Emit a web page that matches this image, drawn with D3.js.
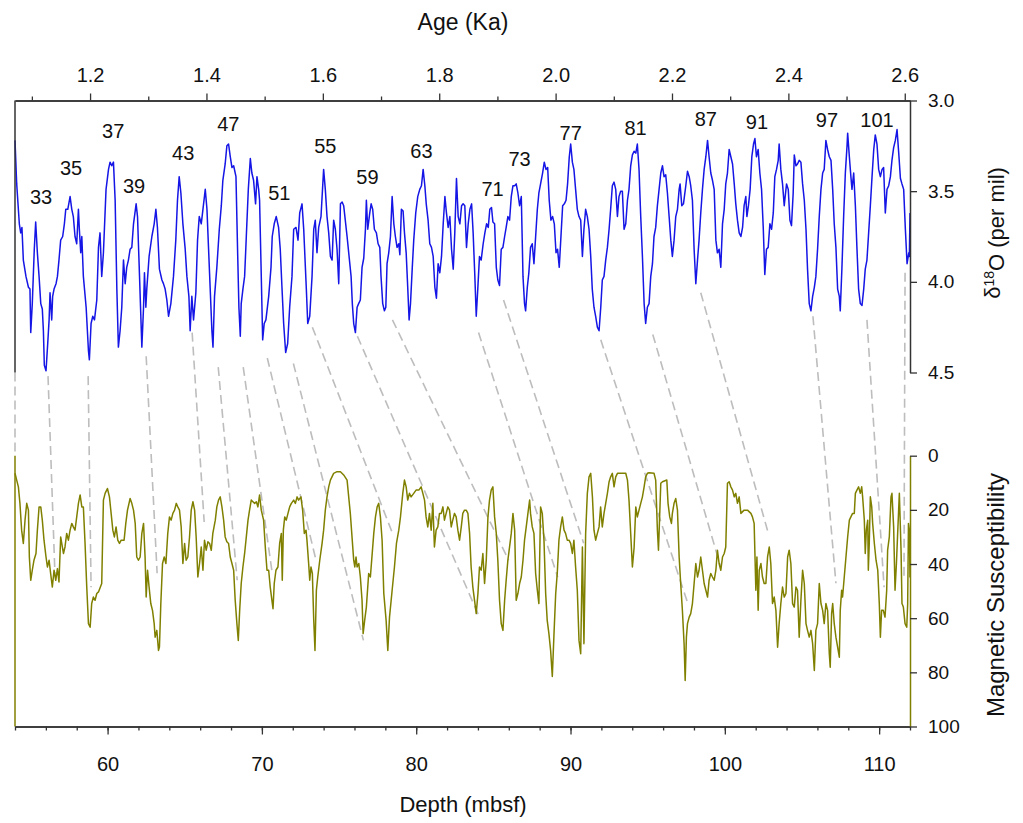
<!DOCTYPE html>
<html>
<head>
<meta charset="utf-8">
<script src="https://cdn.jsdelivr.net/npm/d3@7"></script>
<style>
  body { margin: 0; background: #fff; }
  svg { display: block; font-family: "Liberation Sans", Arial, sans-serif; }
</style>
</head>
<body>
<div id="chart"></div>
<script>
// ---- data ----
const ageTicks = [1.2, 1.4, 1.6, 1.8, 2.0, 2.2, 2.4, 2.6];
const ageMinorTicks = [1.1, 1.3, 1.5, 1.7, 1.9, 2.1, 2.3, 2.5];
const depthTicks = [60, 70, 80, 90, 100, 110];
const depthMinorTicks = d3.range(54, 113, 2);
const d18oTicks = [3.0, 3.5, 4.0, 4.5];
const msTicks = [0, 20, 40, 60, 80, 100];

// benthic d18O record (depth in mbsf, per mil)
const d18oDepth = [
  54.00,54.11,54.28,54.37,54.45,54.54,54.71,54.87,54.97,55.02,55.12,55.25,55.34,55.45,55.56,55.67,55.77,55.84,55.90,56.01,
  56.12,56.21,56.27,56.38,56.44,56.53,56.66,56.75,56.85,56.96,57.09,57.20,57.29,57.42,57.57,57.68,57.78,57.89,58.00,58.11,
  58.17,58.26,58.33,58.43,58.61,58.76,58.82,58.93,59.04,59.15,59.30,59.41,59.51,59.62,59.73,59.90,60.06,60.16,60.27,60.38,
  60.49,60.60,60.70,60.81,60.92,61.03,61.14,61.24,61.35,61.46,61.57,61.68,61.85,61.94,62.07,62.22,62.33,62.39,62.48,62.54,
  62.69,62.87,63.02,63.13,63.23,63.36,63.52,63.62,63.73,63.84,63.95,64.10,64.27,64.42,64.53,64.64,64.75,64.88,65.03,65.14,
  65.27,65.35,65.46,65.57,65.72,65.83,65.94,66.07,66.18,66.33,66.44,66.54,66.65,66.76,66.83,66.93,67.08,67.24,67.37,67.47,
  67.62,67.73,67.84,67.95,68.06,68.17,68.32,68.42,68.51,68.60,68.66,68.77,68.88,68.99,69.12,69.25,69.35,69.46,69.59,69.68,
  69.79,69.85,69.96,70.05,70.15,70.26,70.44,70.59,70.67,70.80,70.93,71.08,71.19,71.30,71.41,71.54,71.67,71.80,71.95,72.06,
  72.21,72.34,72.45,72.60,72.71,72.88,72.97,73.10,73.25,73.36,73.46,73.57,73.68,73.83,74.00,74.11,74.22,74.33,74.44,74.55,
  74.65,74.76,74.87,74.98,75.09,75.20,75.30,75.52,75.78,75.86,75.95,76.06,76.17,76.27,76.38,76.49,76.60,76.71,76.77,76.86,
  76.99,77.08,77.18,77.29,77.42,77.53,77.64,77.72,77.83,77.94,78.03,78.11,78.22,78.33,78.44,78.55,78.65,78.76,78.87,78.94,
  79.04,79.15,79.24,79.35,79.45,79.54,79.63,79.74,79.84,79.97,80.10,80.23,80.34,80.45,80.56,80.65,80.77,80.88,80.99,81.10,
  81.21,81.31,81.42,81.53,81.64,81.75,81.86,81.96,82.07,82.18,82.29,82.40,82.50,82.61,82.72,82.83,82.94,83.04,83.15,83.26,
  83.37,83.48,83.59,83.69,83.80,83.89,83.99,84.10,84.21,84.34,84.45,84.56,84.67,84.77,84.88,84.97,85.08,85.19,85.29,85.40,
  85.51,85.62,85.73,85.83,85.94,86.05,86.16,86.27,86.38,86.48,86.59,86.70,86.81,86.92,87.02,87.09,87.20,87.30,87.41,87.52,
  87.63,87.74,87.85,87.95,88.06,88.19,88.30,88.41,88.52,88.62,88.73,88.84,88.95,89.06,89.16,89.27,89.38,89.49,89.60,89.71,
  89.81,89.92,90.01,90.12,90.22,90.33,90.44,90.55,90.66,90.77,90.87,90.98,91.09,91.20,91.31,91.41,91.52,91.63,91.74,91.85,
  91.96,92.06,92.17,92.28,92.39,92.50,92.60,92.71,92.82,92.93,93.04,93.14,93.25,93.36,93.47,93.58,93.69,93.79,93.90,94.01,
  94.12,94.23,94.33,94.44,94.55,94.66,94.77,94.87,94.98,95.09,95.20,95.31,95.41,95.52,95.63,95.74,95.85,95.96,96.06,96.17,
  96.28,96.39,96.50,96.60,96.71,96.82,96.93,97.04,97.10,97.21,97.32,97.47,97.58,97.69,97.79,97.90,98.01,98.12,98.23,98.33,
  98.44,98.55,98.66,98.77,98.88,98.98,99.09,99.20,99.31,99.42,99.52,99.63,99.74,99.85,99.96,100.06,100.17,100.28,100.39,100.50,
  100.61,100.71,100.82,100.93,101.04,101.15,101.25,101.36,101.43,101.53,101.64,101.75,101.86,101.95,102.05,102.16,102.27,102.38,102.49,102.59,
  102.70,102.81,102.92,103.03,103.14,103.24,103.35,103.46,103.52,103.63,103.74,103.85,103.91,104.00,104.11,104.22,104.32,104.43,104.50,104.61,
  104.71,104.82,104.93,105.04,105.15,105.26,105.36,105.47,105.58,105.69,105.80,105.90,106.01,106.12,106.23,106.34,106.44,106.55,106.66,106.77,
  106.88,106.99,107.09,107.20,107.31,107.42,107.48,107.59,107.70,107.81,107.92,107.96,108.07,108.17,108.24,108.35,108.46,108.56,108.67,108.78,
  108.89,109.00,109.10,109.21,109.32,109.43,109.54,109.65,109.75,109.86,109.97,110.08,110.19,110.29,110.40,110.51,110.62,110.73,110.83,110.94,
  111.05,111.16,111.27,111.38,111.48,111.59,111.70,111.81,111.92,111.96,112.00
];
const d18oValue = [
  3.22,3.46,3.68,3.73,3.70,3.88,3.97,4.03,4.04,4.28,4.12,3.82,3.67,3.84,3.97,4.12,4.15,4.27,4.46,4.49,
  4.34,4.21,4.06,4.21,4.08,4.04,4.01,3.97,3.88,3.77,3.75,3.68,3.60,3.60,3.53,3.60,3.64,3.75,3.79,3.60,
  3.71,3.84,3.75,3.97,4.14,4.38,4.43,4.23,4.19,4.21,4.10,3.81,3.73,3.97,3.84,3.49,3.38,3.34,3.36,3.34,
  3.55,4.04,4.36,4.27,4.14,3.88,4.01,3.92,3.88,3.82,3.81,3.68,3.57,3.64,3.97,4.36,4.14,3.95,4.14,4.04,
  3.86,3.75,3.68,3.60,3.70,3.93,3.99,4.01,4.04,4.10,4.19,4.12,3.97,3.77,3.55,3.42,3.51,3.68,3.82,3.97,
  4.08,4.27,4.08,4.21,4.06,3.77,3.64,3.68,3.60,3.49,3.60,3.81,4.04,4.27,4.36,4.08,3.92,3.71,3.58,3.44,
  3.35,3.25,3.24,3.31,3.37,3.36,3.42,3.81,4.14,4.30,4.12,4.04,3.97,3.75,3.49,3.32,3.40,3.44,3.57,3.42,
  3.49,3.55,3.97,4.32,4.23,4.21,4.08,3.92,3.75,3.68,3.64,3.70,3.82,4.03,4.23,4.39,4.34,4.14,3.97,3.71,
  3.70,3.77,3.62,3.57,3.71,4.04,4.23,4.19,3.97,3.71,3.66,3.84,3.70,3.64,3.38,3.49,3.64,3.73,3.86,3.88,
  3.66,3.71,3.82,4.01,3.57,3.56,3.58,3.75,3.97,4.12,4.23,4.28,4.14,4.12,4.10,3.92,3.87,3.71,3.55,3.71,
  3.62,3.57,3.60,3.71,3.73,3.79,3.81,3.97,4.12,4.16,4.14,3.90,3.84,3.75,3.53,3.68,3.75,3.81,3.79,3.85,
  3.60,3.61,3.73,3.84,4.03,4.21,4.12,3.93,3.77,3.62,3.53,3.49,3.47,3.38,3.47,3.57,3.66,3.79,3.81,3.86,
  4.03,4.09,3.90,3.95,3.86,3.68,3.53,3.62,3.70,3.64,3.82,3.93,3.73,3.43,3.64,3.68,3.58,3.57,3.58,3.81,
  3.68,3.60,3.57,3.73,3.97,4.19,4.04,3.86,3.88,3.79,3.73,3.68,3.70,3.60,3.59,3.67,3.68,3.92,3.99,4.02,
  3.82,3.81,3.75,3.70,3.64,3.66,3.53,3.47,3.47,3.46,3.51,3.58,3.53,3.97,4.12,4.16,4.03,3.95,3.81,3.79,
  3.90,3.75,3.60,3.51,3.46,3.40,3.34,3.38,3.37,3.55,3.66,3.64,3.68,3.84,3.82,3.92,3.75,3.58,3.57,3.55,
  3.46,3.31,3.24,3.34,3.38,3.49,3.60,3.64,3.66,3.86,3.71,3.60,3.64,3.71,3.86,4.04,4.14,4.19,4.25,4.27,
  4.14,3.99,3.97,3.88,3.81,3.71,3.60,3.47,3.45,3.49,3.64,3.53,3.50,3.50,3.71,3.68,3.55,3.49,3.36,3.30,
  3.28,3.29,3.24,3.38,3.64,3.86,4.12,4.23,4.14,4.12,3.97,3.90,3.75,3.70,3.58,3.49,3.40,3.36,3.42,3.41,
  3.51,3.64,3.77,3.86,3.77,3.64,3.60,3.49,3.46,3.58,3.57,3.47,3.39,3.42,3.47,3.55,3.82,4.01,3.88,3.77,
  3.62,3.49,3.38,3.31,3.22,3.31,3.40,3.44,3.49,3.77,3.84,3.82,3.92,3.68,3.60,3.46,3.40,3.27,3.31,3.35,
  3.46,3.57,3.66,3.73,3.75,3.70,3.58,3.53,3.64,3.58,3.49,3.31,3.24,3.21,3.31,3.27,3.40,3.49,3.70,3.96,
  3.82,3.81,3.68,3.71,3.62,3.42,3.38,3.33,3.24,3.38,3.46,3.58,3.53,3.46,3.49,3.66,3.69,3.51,3.30,3.36,
  3.35,3.33,3.34,3.46,3.55,3.71,3.93,4.12,4.16,4.08,4.03,3.97,3.82,3.64,3.49,3.40,3.38,3.22,3.27,3.31,
  3.33,3.49,3.68,3.81,4.04,4.08,4.16,3.92,3.64,3.40,3.25,3.18,3.31,3.42,3.49,3.40,3.58,3.81,4.04,4.12,
  4.13,4.04,3.93,3.88,3.73,3.58,3.42,3.27,3.19,3.24,3.38,3.42,3.38,3.37,3.62,3.49,3.47,3.42,3.33,3.26,
  3.22,3.16,3.29,3.43,3.46,3.49,3.71,3.90,3.84,3.86,3.62
];

// magnetic susceptibility record (depth in mbsf, SI x 10^-5)
const msDepth = [
  54.00,54.11,54.22,54.32,54.43,54.54,54.65,54.76,54.87,54.93,55.02,55.12,55.23,55.36,55.45,55.56,55.67,55.77,55.88,56.01,
  56.10,56.21,56.31,56.42,56.53,56.64,56.75,56.85,56.96,57.03,57.14,57.24,57.35,57.46,57.57,57.68,57.78,57.89,58.00,58.11,
  58.22,58.33,58.43,58.54,58.65,58.76,58.87,58.97,59.08,59.19,59.30,59.41,59.62,59.73,59.84,59.99,60.12,60.23,60.34,60.44,
  60.55,60.66,60.77,60.88,61.07,61.18,61.29,61.46,61.57,61.68,61.79,61.89,62.00,62.11,62.22,62.33,62.43,62.50,62.59,62.69,
  62.80,62.91,63.02,63.08,63.19,63.30,63.36,63.45,63.56,63.67,63.78,63.90,64.01,64.12,64.23,64.34,64.45,64.55,64.66,64.77,
  64.88,64.99,65.09,65.20,65.31,65.42,65.53,65.64,65.74,65.85,65.96,66.07,66.18,66.28,66.39,66.50,66.61,66.72,66.82,66.98,
  67.08,67.19,67.30,67.41,67.52,67.62,67.73,67.84,67.95,68.06,68.17,68.27,68.38,68.47,68.56,68.66,68.77,68.88,68.99,69.10,
  69.20,69.31,69.42,69.53,69.64,69.74,69.85,69.96,70.11,70.22,70.33,70.44,70.54,70.65,70.72,70.80,70.91,71.04,71.15,71.26,
  71.32,71.39,71.48,71.58,71.69,71.80,71.91,72.06,72.17,72.28,72.38,72.53,72.64,72.75,72.86,72.92,73.03,73.10,73.18,73.27,
  73.36,73.44,73.53,73.62,73.75,73.90,74.00,74.11,74.22,74.33,74.44,74.65,74.87,75.09,75.30,75.52,75.73,75.95,76.02,76.10,
  76.17,76.28,76.38,76.49,76.56,76.66,76.77,76.92,77.03,77.25,77.36,77.47,77.57,77.68,77.79,77.90,78.05,78.16,78.27,78.44,
  78.59,78.72,78.87,78.98,79.13,79.24,79.35,79.45,79.56,79.67,79.84,79.99,80.17,80.32,80.43,80.54,80.64,80.75,80.86,80.97,
  81.08,81.18,81.29,81.40,81.51,81.62,81.73,81.83,81.94,82.05,82.16,82.27,82.37,82.48,82.59,82.70,82.81,82.92,83.02,83.13,
  83.24,83.35,83.46,83.56,83.67,83.78,83.89,84.00,84.10,84.21,84.32,84.43,84.54,84.65,84.75,84.86,84.97,85.08,85.19,85.29,
  85.40,85.51,85.62,85.73,85.83,85.94,86.05,86.16,86.27,86.38,86.48,86.59,86.70,86.81,86.92,87.02,87.13,87.24,87.35,87.41,
  87.52,87.63,87.74,87.85,87.95,88.06,88.17,88.28,88.39,88.49,88.60,88.71,88.82,88.93,89.04,89.14,89.25,89.36,89.47,89.58,
  89.68,89.79,89.90,90.01,90.12,90.22,90.33,90.44,90.55,90.66,90.77,90.87,90.98,91.09,91.20,91.31,91.42,91.52,91.63,91.74,
  91.85,91.95,92.06,92.17,92.28,92.39,92.50,92.60,92.71,92.82,92.93,93.04,93.25,93.58,93.69,93.79,93.90,94.01,94.12,94.23,
  94.33,94.44,94.55,94.66,94.77,94.87,94.98,95.09,95.41,95.52,95.63,95.70,95.76,95.85,95.96,96.24,96.32,96.43,96.54,96.60,
  96.71,96.82,96.93,97.04,97.14,97.25,97.36,97.43,97.51,97.58,97.69,97.79,97.90,98.01,98.12,98.23,98.33,98.44,98.55,98.66,
  98.77,98.88,98.98,99.09,99.20,99.31,99.42,99.52,99.63,99.74,99.85,99.96,100.06,100.17,100.28,100.39,100.50,100.61,100.71,100.82,
  100.93,101.04,101.25,101.47,101.69,101.79,101.90,101.95,102.01,102.08,102.16,102.23,102.34,102.44,102.55,102.66,102.77,102.88,102.98,103.09,
  103.20,103.31,103.42,103.52,103.63,103.74,103.85,103.96,104.07,104.17,104.28,104.39,104.50,104.61,104.71,104.82,104.93,105.04,105.15,105.26,
  105.36,105.47,105.58,105.69,105.80,105.90,106.01,106.12,106.23,106.34,106.44,106.55,106.66,106.77,106.83,106.92,106.99,107.09,107.20,107.31,
  107.42,107.48,107.57,107.63,107.74,107.85,107.96,108.07,108.17,108.28,108.39,108.46,108.56,108.67,108.78,108.87,108.93,109.04,109.10,109.17,
  109.26,109.30,109.36,109.43,109.52,109.58,109.69,109.80,109.91,110.01,110.08,110.16,110.27,110.38,110.49,110.55,110.66,110.77,110.83,110.94,
  111.03,111.12,111.20,111.31,111.42,111.48,111.57,111.68,111.79,111.85,111.90,111.96,112.00
];
const msValue = [
  6.5,9.0,11.5,17.6,27.5,32.4,23.8,17.6,20.1,37.4,46.0,42.3,38.6,36.1,27.5,18.9,18.9,23.8,31.2,37.4,
  41.1,38.6,43.5,48.5,42.3,46.0,41.7,46.6,30.0,32.4,36.1,33.7,28.7,31.2,27.5,25.0,26.3,27.5,22.6,17.6,
  14.5,18.9,18.9,32.4,48.5,62.0,63.3,54.6,52.2,53.4,50.9,50.3,47.2,16.4,13.9,12.1,15.2,21.3,27.5,30.0,
  26.3,31.2,32.4,31.2,31.2,25.0,20.1,15.8,17.6,20.1,25.0,37.4,38.6,37.4,28.7,25.0,37.4,52.2,42.3,48.5,
  54.6,57.1,62.0,67.0,64.5,71.9,70.7,54.6,39.8,37.4,39.8,28.7,22.6,23.8,21.3,20.1,17.6,18.9,20.1,26.3,
  39.8,32.4,38.6,37.4,30.0,20.1,17.0,20.1,30.0,44.8,39.8,33.7,42.3,31.2,34.9,31.8,32.4,34.9,28.7,23.8,
  18.9,16.4,15.2,18.9,23.8,30.0,31.8,32.4,37.4,39.8,42.3,53.4,62.0,68.2,57.1,47.2,41.1,36.1,30.0,23.8,
  20.1,16.4,17.0,17.6,17.0,18.9,14.5,20.1,23.8,33.7,42.3,42.3,48.5,53.4,56.5,47.2,42.3,41.1,32.4,28.7,
  46.0,27.5,22.6,23.8,21.3,18.9,17.6,16.4,17.6,15.2,16.4,15.2,20.1,28.7,27.5,31.2,39.8,46.0,41.1,43.5,
  60.8,71.9,49.7,44.8,38.6,32.4,27.5,20.1,15.2,11.5,9.0,6.5,5.9,5.9,7.1,9.0,21.3,38.6,41.1,37.4,
  41.1,39.8,44.8,53.4,65.7,60.8,55.9,43.5,44.8,28.7,22.6,18.9,17.6,22.6,31.2,50.9,60.8,71.9,59.6,49.7,
  41.1,32.4,27.5,22.6,13.9,9.0,11.5,16.4,13.9,15.2,13.9,12.7,12.7,11.5,13.9,16.4,22.6,26.3,21.3,27.5,
  17.6,33.7,27.5,26.3,21.3,21.3,18.9,23.8,21.3,18.9,20.1,26.3,23.8,21.3,22.6,27.5,31.2,26.3,21.3,20.1,
  20.1,21.3,28.7,41.1,48.5,53.4,58.3,50.9,41.1,42.3,36.1,47.2,38.6,22.6,16.4,12.7,11.5,22.6,28.7,38.6,
  53.4,62.0,64.5,53.4,46.0,38.6,33.7,28.7,21.3,27.5,53.4,50.9,47.2,44.8,38.6,31.2,26.3,21.3,16.4,21.3,
  26.3,28.7,43.5,49.7,54.6,18.9,21.3,31.2,50.9,60.8,65.7,71.9,81.5,65.7,50.9,43.5,31.2,26.3,22.6,27.5,
  28.7,31.2,31.2,32.4,36.1,31.2,41.1,49.7,68.2,73.1,33.7,69.4,28.7,13.9,7.8,6.5,15.2,27.5,31.2,28.7,
  26.3,18.9,26.3,21.3,17.6,13.9,9.6,7.8,6.5,11.5,7.8,6.5,6.5,6.5,9.0,16.4,28.7,41.1,34.0,18.9,
  22.6,20.1,17.6,15.2,11.5,7.8,6.5,6.3,6.5,9.0,27.5,34.9,25.0,10.2,9.6,9.0,17.6,22.6,25.0,21.3,
  17.6,15.8,20.1,37.4,47.2,57.1,69.4,83.0,67.0,62.0,59.6,58.3,54.6,47.2,39.8,44.8,42.3,37.4,42.3,47.2,
  49.7,52.2,46.0,43.5,44.8,46.0,42.3,34.9,39.8,42.3,37.4,36.1,33.7,10.2,9.6,11.5,12.7,15.2,13.9,17.6,
  15.2,21.3,20.1,20.1,21.3,22.6,25.0,36.1,49.7,37.4,57.1,42.3,39.8,44.8,47.2,47.2,37.4,33.7,39.8,54.6,
  52.2,57.1,70.7,62.0,54.6,48.5,52.2,50.9,37.4,34.9,39.8,54.6,55.9,48.5,49.7,67.0,53.4,42.3,47.2,62.0,
  64.5,67.0,64.5,69.4,79.3,64.5,62.0,47.2,54.6,57.1,62.0,54.6,57.1,73.1,78.1,58.3,54.6,62.0,67.0,70.7,
  74.4,57.1,49.7,52.2,44.8,37.4,30.0,23.8,22.6,21.3,21.3,13.9,12.7,11.5,13.9,11.5,15.2,23.8,36.1,27.5,
  23.8,42.3,32.4,15.2,18.9,25.0,32.4,38.6,42.3,54.6,67.0,57.1,57.1,59.6,49.7,34.9,30.0,15.2,13.9,26.3,
  49.7,39.8,28.7,13.9,34.9,54.6,55.9,62.0,63.3,54.6,25.0,27.5,45.0
];

// grey dashed tie points: d18O trough -> magnetic susceptibility high
const tieTopDepth = [54.0,56.14,58.74,62.50,65.48,67.17,68.79,70.35,72.04,73.27,76.19,78.46,84.04,85.66,91.96,95.33,98.44,105.71,109.21,111.68];
const tieTopD18O  = [4.50,4.52,4.52,4.41,4.28,4.47,4.47,4.42,4.45,4.25,4.30,4.21,4.28,4.10,4.32,4.29,4.06,4.19,4.21,3.95];
const tieBotDepth = [54.0,56.59,58.93,63.21,66.26,68.40,70.67,73.46,76.58,78.46,84.04,85.99,89.17,90.85,97.60,99.74,102.85,107.20,110.32,111.61];
const tieBotMS    = [0,44.1,48.6,43.4,24.5,46.0,43.4,37.5,68.2,28.6,58.9,38.6,44.9,32.3,54.5,41.2,29.3,47.1,48.6,44.9];

// marine isotope stage labels
const misLabels = ["33","35","37","39","43","47","51","55","59","63","71","73","77","81","87","91","97","101"];
const misDepth  = [55.69,57.63,60.36,61.72,64.90,67.82,71.13,74.11,76.84,80.34,84.95,86.70,90.01,94.22,98.77,102.08,106.62,109.86];
const misD18O   = [3.53,3.37,3.17,3.47,3.29,3.13,3.51,3.25,3.42,3.28,3.49,3.32,3.18,3.15,3.10,3.12,3.11,3.11];

// ---- layout ----
const width = 1023, height = 823;
const plotLeft = 15, plotRight = 910;
const upperTop = 100.5, upperBottom = 372.5;
const lowerTop = 455.7, lowerBottom = 726.5;
const blue = "#1515e6", olive = "#808000", axisCol = "#333";

const svg = d3.select("#chart").append("svg")
  .attr("width", width)
  .attr("height", height);

const x = d3.scaleLinear().domain([54, 112]).range([plotLeft, plotRight]);
const xAge = d3.scaleLinear().domain([1.071, 2.609]).range([plotLeft, plotRight]);
const yD = d3.scaleLinear().domain([3.0, 4.5]).range([upperTop, upperBottom]);
const yM = d3.scaleLinear().domain([0, 100]).range([lowerTop, lowerBottom]);

// tie lines (behind everything)
svg.append("g").selectAll("line")
  .data(d3.range(tieTopDepth.length))
  .join("line")
  .attr("x1", i => x(tieTopDepth[i]))
  .attr("y1", i => yD(tieTopD18O[i]))
  .attr("x2", i => x(tieBotDepth[i]))
  .attr("y2", i => yM(tieBotMS[i]))
  .attr("stroke", "#bdbdbd")
  .attr("stroke-width", 1.6)
  .attr("stroke-dasharray", "9,5");

// curves
const d18oLine = d3.line()
  .x(i => x(d18oDepth[i]))
  .y(i => yD(d18oValue[i]));
svg.append("path")
  .attr("d", d18oLine(d3.range(d18oDepth.length)))
  .attr("fill", "none")
  .attr("stroke", blue)
  .attr("stroke-width", 1.5)
  .attr("stroke-linejoin", "round");

const msLine = d3.line()
  .x(i => x(msDepth[i]))
  .y(i => yM(msValue[i]));
svg.append("path")
  .attr("d", msLine(d3.range(msDepth.length)))
  .attr("fill", "none")
  .attr("stroke", olive)
  .attr("stroke-width", 1.5)
  .attr("stroke-linejoin", "round");

// left frame lines
svg.append("line")
  .attr("x1", plotLeft).attr("x2", plotLeft)
  .attr("y1", upperTop).attr("y2", upperBottom)
  .attr("stroke", axisCol).attr("stroke-width", 1.5);
svg.append("line")
  .attr("x1", plotLeft).attr("x2", plotLeft)
  .attr("y1", lowerTop).attr("y2", lowerBottom)
  .attr("stroke", olive).attr("stroke-width", 1.5);

function styleAxis(g, lineCol, size) {
  g.selectAll(".domain").attr("stroke", lineCol).attr("stroke-width", 1.5);
  g.selectAll(".tick line").attr("stroke", axisCol).attr("stroke-width", 1.3);
  g.selectAll(".tick text")
    .attr("fill", "#111")
    .style("font-size", size + "px")
    .style("font-family", '"Liberation Sans", Arial, sans-serif');
}

// top age axis
const ageMinor = svg.append("g")
  .attr("transform", `translate(0,${upperTop})`)
  .call(d3.axisTop(xAge).tickValues(ageMinorTicks).tickSize(4).tickFormat("").tickSizeOuter(0));
styleAxis(ageMinor, axisCol, 20);
const ageAxis = svg.append("g")
  .attr("transform", `translate(0,${upperTop})`)
  .call(d3.axisTop(xAge).tickValues(ageTicks).tickSize(7).tickPadding(12)
    .tickFormat(d3.format(".1f")).tickSizeOuter(0));
styleAxis(ageAxis, axisCol, 20);

// bottom depth axis
const depthMinor = svg.append("g")
  .attr("transform", `translate(0,${lowerBottom})`)
  .call(d3.axisBottom(x).tickValues(depthMinorTicks).tickSize(4).tickFormat("").tickSizeOuter(0));
styleAxis(depthMinor, axisCol, 20);
const depthAxis = svg.append("g")
  .attr("transform", `translate(0,${lowerBottom})`)
  .call(d3.axisBottom(x).tickValues(depthTicks).tickSize(8).tickPadding(22).tickSizeOuter(0));
styleAxis(depthAxis, axisCol, 20);

// right d18O axis
const d18Axis = svg.append("g")
  .attr("transform", `translate(${plotRight},0)`)
  .call(d3.axisRight(yD).tickValues(d18oTicks).tickSize(7).tickPadding(11)
    .tickFormat(d3.format(".1f")).tickSizeOuter(0));
styleAxis(d18Axis, axisCol, 19);

// right MS axis
const msAxis = svg.append("g")
  .attr("transform", `translate(${plotRight},0)`)
  .call(d3.axisRight(yM).tickValues(msTicks).tickSize(7).tickPadding(11).tickSizeOuter(0));
styleAxis(msAxis, olive, 19);

// stage labels
svg.append("g").selectAll("text")
  .data(d3.range(misLabels.length))
  .join("text")
  .attr("x", i => x(misDepth[i]))
  .attr("y", i => yD(misD18O[i]))
  .attr("dy", "0.35em")
  .attr("text-anchor", "middle")
  .style("font-size", "20px")
  .attr("fill", "#111")
  .text(i => misLabels[i]);

// axis titles
svg.append("text")
  .attr("x", 463).attr("y", 30)
  .attr("text-anchor", "middle")
  .style("font-size", "23px")
  .attr("fill", "#111")
  .text("Age (Ka)");

svg.append("text")
  .attr("x", 463).attr("y", 812)
  .attr("text-anchor", "middle")
  .style("font-size", "22px")
  .attr("fill", "#111")
  .text("Depth (mbsf)");

const dTitle = svg.append("text")
  .attr("transform", "translate(1000,233) rotate(-90)")
  .attr("text-anchor", "middle")
  .style("font-size", "22px")
  .attr("fill", "#111");
dTitle.append("tspan").text("δ");
dTitle.append("tspan").attr("dy", "-0.45em").style("font-size", "14px").text("18");
dTitle.append("tspan").attr("dy", "0.45em").text("O (per mil)");

svg.append("text")
  .attr("transform", "translate(1004,595) rotate(-90)")
  .attr("text-anchor", "middle")
  .style("font-size", "24px")
  .attr("fill", "#111")
  .text("Magnetic Susceptibility");
</script>
</body>
</html>
